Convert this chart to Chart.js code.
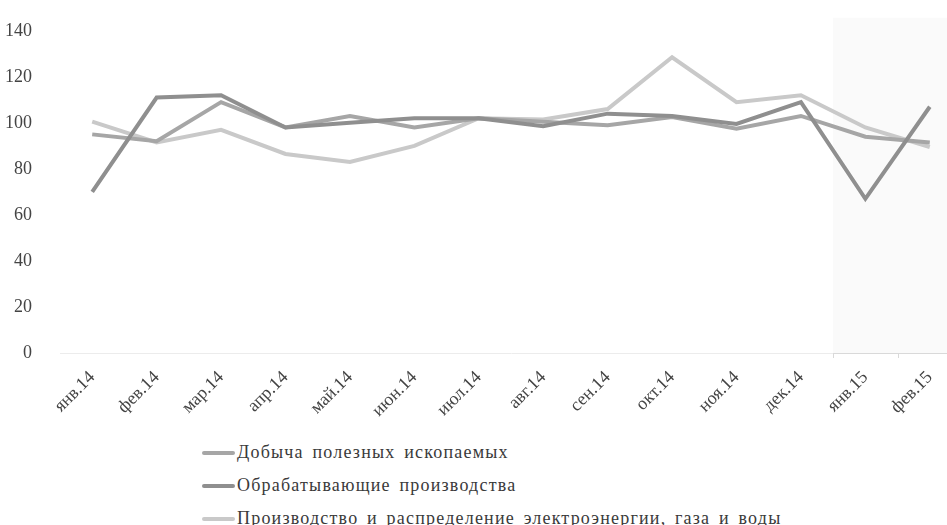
<!DOCTYPE html>
<html lang="ru">
<head>
<meta charset="utf-8">
<title>Индексы производства</title>
<script src="https://cdn.jsdelivr.net/npm/chart.js@4"></script>
<style>
  html, body { margin: 0; padding: 0; background: #fff; overflow: hidden; }
  #wrap { position: relative; width: 947px; height: 525px; overflow: hidden; }
  #box { position: absolute; left: 0; top: 0; width: 970px; height: 435px; }
  #legend { position: absolute; left: 202px; top: 436px; font-family: "Liberation Serif", serif; font-size: 18px; letter-spacing: 1.2px; word-spacing: 3px; color: #3a3a3a; white-space: nowrap; }
  #legend div { height: 33px; display: flex; align-items: center; }
  #legend span.sw { display: inline-block; width: 33px; height: 4px; margin-right: 2px; border-radius: 2px; }
</style>
</head>
<body>
<div id="wrap">
  <div id="box"><canvas id="grafico"></canvas></div>
  <div id="legend"></div>
</div>
<script>
// Категории (месяцы)
const meses = ['янв.14', 'фев.14', 'мар.14', 'апр.14', 'май.14', 'июн.14', 'июл.14',
  'авг.14', 'сен.14', 'окт.14', 'ноя.14', 'дек.14', 'янв.15', 'фев.15'];

// Ряды
const dobycha = [95, 92, 109, 98, 103, 98, 102, 100.5, 99, 102.5, 97.5, 103, 94, 91.5];
const obrab = [70, 111, 112, 98, 100, 102, 102, 98.5, 104, 103, 99.5, 109, 67, 107];
const energia = [100.5, 91.5, 97, 86.5, 83, 90, 102, 101.5, 106, 128.5, 109, 112, 98, 89.5];

const nomes = ['Добыча полезных ископаемых', 'Обрабатывающие производства',
  'Производство и распределение электроэнергии, газа и воды'];
const cores = ['#a6a6a6', '#8f8f8f', '#c9c9c9'];

const FONTE = '"Liberation Serif", "Times New Roman", serif';

// Фон для 2015 года + ось внизу
const sombra = {
  id: 'sombra',
  beforeDatasetsDraw(chart) {
    const { ctx, chartArea, scales } = chart;
    const x = scales.x;
    const meio = (x.getPixelForValue(11) + x.getPixelForValue(12)) / 2;
    const passo = x.getPixelForValue(13) - x.getPixelForValue(12);
    ctx.save();
    ctx.fillStyle = '#fafafa';
    ctx.fillRect(meio, chartArea.top - 13, chartArea.right - meio + 20, chartArea.bottom - chartArea.top + 13);
    ctx.strokeStyle = '#d9d9d9';
    ctx.lineWidth = 1;
    ctx.beginPath();
    ctx.moveTo(meio, chartArea.bottom + 0.5);
    ctx.lineTo(chartArea.right + 20, chartArea.bottom + 0.5);
    for (let i = 0; i < 3; i++) {
      const t = Math.round(meio + i * passo) + 0.5;
      ctx.moveTo(t, chartArea.bottom);
      ctx.lineTo(t, chartArea.bottom + 5);
    }
    ctx.stroke();
    ctx.restore();
  }
};

function montarLegenda() {
  const el = document.getElementById('legend');
  nomes.forEach((n, i) => {
    const d = document.createElement('div');
    d.innerHTML = `<span class="sw" style="background:${cores[i]}"></span>${n}`;
    el.appendChild(d);
  });
}

function desenhar() {
  const series = [dobycha, obrab, energia];
  new Chart(document.getElementById('grafico'), {
    type: 'line',
    data: {
      labels: meses,
      datasets: series.map((s, i) => ({
        label: nomes[i],
        data: s,
        borderColor: cores[i],
        backgroundColor: cores[i],
        borderWidth: 4,
        pointRadius: 0,
        tension: 0,
        order: i === 2 ? 3 : (i === 0 ? 2 : 1)
      }))
    },
    options: {
      responsive: true,
      maintainAspectRatio: false,
      animation: false,
      layout: { padding: { top: 14, right: 8, left: 0, bottom: 0 } },
      plugins: { legend: { display: false }, tooltip: { enabled: false } },
      scales: {
        x: {
          offset: true,
          grid: { display: false },
          border: { color: '#ececec', dash: [2, 6] },
          ticks: {
            color: '#444',
            font: { family: FONTE, size: 18 },
            minRotation: 45,
            maxRotation: 45,
            padding: 6
          },
          afterFit: s => { s.height = 82; }
        },
        y: {
          min: 0,
          max: 140,
          grid: { display: false },
          border: { display: false },
          ticks: {
            stepSize: 20,
            color: '#444',
            font: { family: FONTE, size: 18 },
            padding: 20
          },
          afterFit: s => { s.width = 60; }
        }
      }
    },
    plugins: [sombra]
  });
}

document.addEventListener('DOMContentLoaded', () => {
  montarLegenda();
  desenhar();
});
</script>
</body>
</html>
